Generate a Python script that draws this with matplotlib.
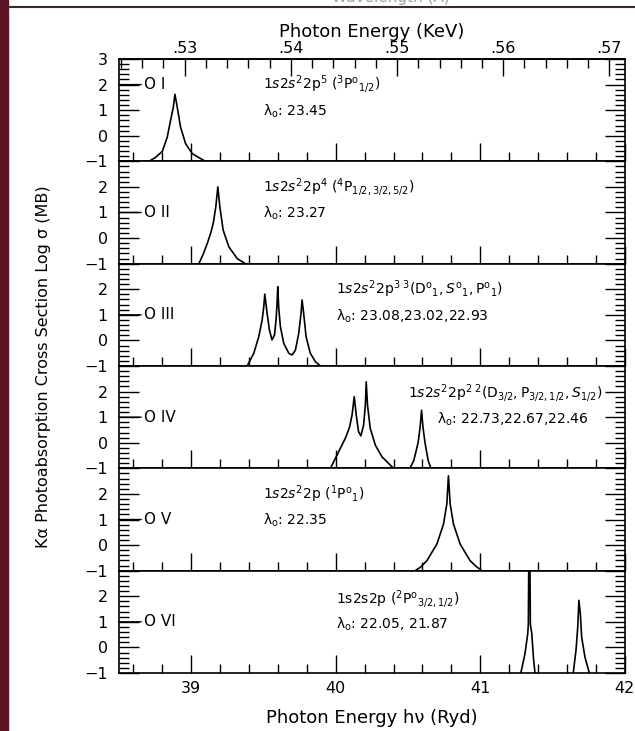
import numpy as np
import matplotlib
matplotlib.use('Agg')
import matplotlib.pyplot as plt
from matplotlib.ticker import MultipleLocator, FixedLocator, FuncFormatter
from matplotlib.patches import Rectangle
from matplotlib.lines import Line2D

plt.rcParams['font.family'] = ['DejaVu Sans']
plt.rcParams['mathtext.fontset'] = 'dejavusans'
plt.rcParams['mathtext.default'] = 'regular'

RYD_KEV = 0.0136057

# peak profiles (photon energy in Ryd, log sigma)
oi_x = [38.707, 38.750, 38.800, 38.834, 38.857, 38.876, 38.887, 38.903, 38.926, 38.961, 39.007, 39.064, 39.099]
oi_y = [-1.00, -0.86, -0.61, -0.05, 0.60, 1.12, 1.62, 1.12, 0.34, -0.31, -0.70, -0.89, -1.00]

oii_x = [39.053, 39.085, 39.111, 39.135, 39.152, 39.170, 39.184, 39.198, 39.221, 39.260, 39.318, 39.375]
oii_y = [-1.00, -0.60, -0.21, 0.20, 0.57, 1.22, 2.00, 1.22, 0.31, -0.34, -0.80, -1.00]

oiii_x = [39.387, 39.433, 39.467, 39.491, 39.502, 39.509, 39.525, 39.541, 39.559, 39.576, 39.587, 39.594,
          39.599, 39.605, 39.617, 39.640, 39.675, 39.698, 39.721, 39.744, 39.760, 39.767, 39.778, 39.795,
          39.824, 39.859, 39.894]
oiii_y = [-1.00, -0.50, 0.14, 0.80, 1.32, 1.81, 1.06, 0.41, 0.02, 0.21, 0.80, 1.45,
          2.10, 1.32, 0.54, -0.11, -0.50, -0.57, -0.38, 0.28, 1.06, 1.58, 1.06, 0.14,
          -0.50, -0.83, -1.00]

oiv_x = [39.963, 40.009, 40.066, 40.095, 40.113, 40.128, 40.142, 40.158, 40.174, 40.193, 40.205, 40.211,
         40.220, 40.239, 40.274, 40.320, 40.377, 40.400]
oiv_y = [-1.00, -0.48, 0.17, 0.60, 1.08, 1.80, 1.08, 0.43, 0.27, 0.69, 1.47, 2.38,
         1.47, 0.56, -0.09, -0.55, -0.87, -1.00]
oiv2_x = [40.513, 40.540, 40.570, 40.584, 40.594, 40.604, 40.618, 40.640, 40.659]
oiv2_y = [-1.00, -0.70, 0.00, 0.60, 1.27, 0.60, 0.00, -0.70, -1.00]

ov_x = [40.550, 40.590, 40.631, 40.700, 40.746, 40.769, 40.780, 40.792, 40.815, 40.861, 40.930, 40.975, 41.011]
ov_y = [-1.00, -0.85, -0.61, 0.04, 0.82, 1.61, 2.71, 1.61, 0.82, 0.04, -0.61, -0.85, -1.00]

ovi_x = [41.281, 41.310, 41.329, 41.333, 41.336, 41.344, 41.347, 41.357, 41.368, 41.379]
ovi_y = [-1.00, -0.24, 0.54, 0.90, 3.30, 3.30, 0.90, 0.54, -0.38, -1.00]
ovi2_x = [41.644, 41.663, 41.675, 41.679, 41.683, 41.693, 41.702, 41.725, 41.755]
ovi2_y = [-1.00, -0.11, 0.80, 1.32, 1.84, 1.32, 0.41, -0.38, -1.00]

kev_ticks = [0.53, 0.54, 0.55, 0.56, 0.57]

ions = ['O I', 'O II', 'O III', 'O IV', 'O V', 'O VI']
ion_y = [2, 1, 1, 1, 1, 1]
configs = [r'$1\mathit{s}2\mathit{s}^2 2p^5\ (^3P^o{}_{1/2})$',
           r'$1\mathit{s}2\mathit{s}^2 2p^4\ (^4P_{1/2,3/2,5/2})$',
           r'$1\mathit{s}2\mathit{s}^2 2p^{3\ 3}(D^o{}_1,\mathit{S}^o{}_1,P^o{}_1)$',
           r'$1\mathit{s}2\mathit{s}^2 2p^{2\ 2}(D_{3/2},P_{3/2,1/2},\mathit{S}_{1/2})$',
           r'$1\mathit{s}2\mathit{s}^2 2p\ (^1P^o{}_1)$',
           r'$1s2s2p\ (^2P^o{}_{3/2,1/2})$']
lambdas = ['23.45', '23.27', '23.08,23.02,22.93', '22.73,22.67,22.46', '22.35', '22.05, 21.87']
cfg_pos = [(39.50, 2.0), (39.50, 2.0), (40.00, 2.0), (40.50, 1.93), (39.50, 2.0), (40.00, 1.9)]
lam_pos = [(39.50, 0.95), (39.50, 0.95), (40.00, 0.95), (40.70, 0.9), (39.50, 0.95), (40.00, 0.9)]

curves = [[(oi_x, oi_y)], [(oii_x, oii_y)], [(oiii_x, oiii_y)],
          [(oiv_x, oiv_y), (oiv2_x, oiv2_y)], [(ov_x, ov_y)],
          [(ovi_x, ovi_y), (ovi2_x, ovi2_y)]]

fig = plt.figure(figsize=(6.35, 7.31), dpi=100)
W, H = 635.0, 731.0

# background bits of the original slide
fig.patches.append(Rectangle((0, 0), 8 / W, 1, transform=fig.transFigure, color='#5a1426', zorder=0))
fig.lines.append(Line2D([8 / W, 1], [1 - 7 / H, 1 - 7 / H], transform=fig.transFigure, color='#3a2a2a', lw=1.5))
fig.text(391 / W, 1 + 4 / H, 'Wavelength (Å)', ha='center', va='center', fontsize=11, color='#a0a0a0')

left = 119 / W
width = (624.7 - 119) / W
bottom0 = 1 - 673 / H
h = (673 - 59) / H / 6

for i in range(6):
    ax = fig.add_axes([left, bottom0 + (5 - i) * h, width, h])
    for cx, cy in curves[i]:
        ax.plot(cx, cy, color='black', lw=1.2)
    ax.set_xlim(38.5, 42)
    ax.set_ylim(-1, 3)

    ax.xaxis.set_major_locator(MultipleLocator(1))
    ax.xaxis.set_minor_locator(MultipleLocator(0.2))
    ax.yaxis.set_major_locator(MultipleLocator(1))
    ax.yaxis.set_minor_locator(MultipleLocator(0.2))
    ax.tick_params(axis='x', which='both', direction='in', top=False, bottom=True,
                   labelbottom=(i == 5), labelsize=11.5, pad=6, width=1)
    ax.tick_params(axis='x', which='major', length=13)
    ax.tick_params(axis='x', which='minor', length=6.5)
    ax.tick_params(axis='y', which='both', direction='in', left=True, right=True,
                   labelsize=11.5, pad=8, width=1)
    ax.tick_params(axis='y', which='major', length=14.5)
    ax.tick_params(axis='y', which='minor', length=7)
    if i == 0:
        ax.yaxis.set_major_formatter(FuncFormatter(lambda v, p: f'{v:.0f}'.replace('-', '\u2212')))
    else:
        ax.yaxis.set_major_formatter(FuncFormatter(
            lambda v, p: '' if v > 2.5 else f'{v:.0f}'.replace('-', '\u2212')))
    for s in ax.spines.values():
        s.set_linewidth(1.2)

    ax.annotate(ions[i], xy=(0, ion_y[i]), xycoords=('axes fraction', 'data'),
                xytext=(18, 0), textcoords='offset points', ha='left', va='center', fontsize=11,
                arrowprops=dict(arrowstyle='-', lw=1.0, shrinkA=0, shrinkB=0, relpos=(0, 0.5)))
    ax.text(cfg_pos[i][0], cfg_pos[i][1], configs[i], ha='left', va='center', fontsize=10)
    ax.text(lam_pos[i][0], lam_pos[i][1], r'$\lambda_o$: ' + lambdas[i], ha='left', va='center', fontsize=10)

    if i == 0:
        sec = ax.secondary_xaxis('top', functions=(lambda r: r * RYD_KEV, lambda k: k / RYD_KEV))
        sec.xaxis.set_major_locator(FixedLocator(kev_ticks))
        sec.xaxis.set_minor_locator(MultipleLocator(0.002))
        sec.xaxis.set_major_formatter(FuncFormatter(lambda v, p: f'{v:.2f}'.lstrip('0')))
        sec.tick_params(which='both', direction='in', labelsize=11.5, pad=2, width=1)
        sec.tick_params(which='major', length=12.5)
        sec.tick_params(which='minor', length=6.5)
        sec.spines['top'].set_linewidth(1.2)

fig.text(372 / W, 1 - 32 / H, 'Photon Energy (KeV)', ha='center', va='center', fontsize=13)
fig.text(372 / W, 1 - 718 / H, 'Photon Energy h\u03bd (Ryd)', ha='center', va='center', fontsize=13)
fig.text(44 / W, 1 - 367 / H, 'K\u03b1 Photoabsorption Cross Section Log \u03c3 (MB)',
         rotation=90, ha='center', va='center', fontsize=11.5)

plt.savefig('out.png', dpi=100)
